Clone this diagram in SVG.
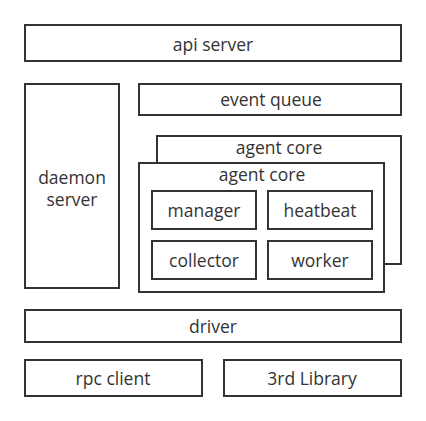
<svg xmlns="http://www.w3.org/2000/svg" width="426" height="421" viewBox="0 0 426 421">
<style>
rect.b{fill:#fff;stroke:#333;stroke-width:2}
text{font-family:"Open Sans","Noto Sans","DejaVu Sans",sans-serif;font-size:17.5px;fill:#333;text-anchor:middle}
</style>
<rect width="426" height="421" fill="#fff"/>
<g id="api-server"><rect class="b" x="25" y="25" width="376" height="36"/><text x="213" y="51">api server</text></g>
<g id="daemon-server"><rect class="b" x="25" y="84" width="94" height="204"/><text x="72" y="184">daemon</text><text x="72" y="206">server</text></g>
<g id="event-queue"><rect class="b" x="139" y="84" width="262" height="31"/><text x="271" y="106">event queue</text></g>
<g id="agent-core-back"><rect class="b" x="157" y="136" width="244" height="128"/><text x="279" y="154">agent core</text></g>
<g id="agent-core"><rect class="b" x="139" y="163" width="245" height="129"/><text x="262" y="181">agent core</text></g>
<g id="manager"><rect class="b" x="152" y="191" width="104" height="38"/><text x="204" y="217">manager</text></g>
<g id="heatbeat"><rect class="b" x="268" y="191" width="104" height="38"/><text x="320" y="217">heatbeat</text></g>
<g id="collector"><rect class="b" x="152" y="241" width="104" height="38"/><text x="204" y="267">collector</text></g>
<g id="worker"><rect class="b" x="268" y="241" width="104" height="38"/><text x="320" y="267">worker</text></g>
<g id="driver"><rect class="b" x="25" y="310" width="376" height="32"/><text x="213" y="333">driver</text></g>
<g id="rpc-client"><rect class="b" x="25" y="360" width="177" height="36"/><text x="113" y="385">rpc client</text></g>
<g id="third-library"><rect class="b" x="224" y="360" width="177" height="36"/><text x="312" y="385">3rd Library</text></g>
<g id="connectors"></g>
</svg>
